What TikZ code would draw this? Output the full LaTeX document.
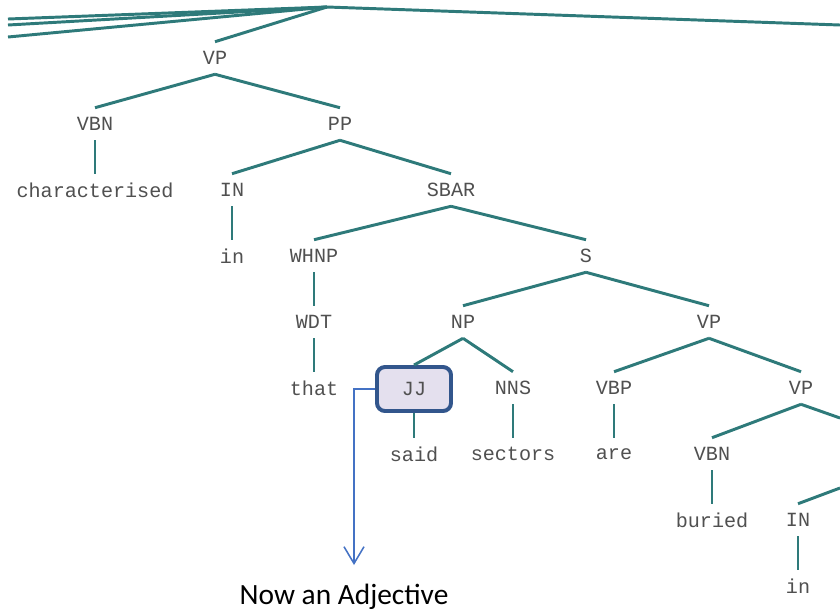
\documentclass[tikz,border=0pt]{standalone}
\usepackage{fontspec}
\setmonofont{Liberation Mono}
\newfontfamily\notefont{Carlito}
\usepackage{xcolor}
\usepackage{tikz}
\usetikzlibrary{arrows.meta}

\definecolor{treeline}{RGB}{46,122,122}
\definecolor{treetext}{RGB}{80,80,80}
\definecolor{jjborder}{RGB}{50,86,140}
\definecolor{jjfill}{RGB}{228,224,238}
\definecolor{noteblue}{RGB}{68,114,196}

\begin{document}
\begin{tikzpicture}[
    x=0.025cm, y=-0.025cm,
    tag/.style={inner sep=0pt, minimum height=0.8cm, text=treetext, font=\ttfamily\fontsize{14.3}{16}\selectfont},
    hilite/.style={tag, draw=jjborder, fill=jjfill, line width=2.8pt, rounded corners=0.2cm, minimum width=1.85cm, minimum height=1.1cm},
    edge/.style={draw=treeline, line width=2.1pt},
    pointer/.style={draw=noteblue, line width=1.1pt, -{Straight Barb[length=0.42cm, width=0.5cm, line width=1.1pt]}},
    note/.style={font=\notefont\fontsize{20.9}{23}\selectfont, text=black}
]
\useasboundingbox (0,0) rectangle (840,614);

\coordinate (top) at (327,7);
\coordinate (offa) at (8,19);
\coordinate (offb) at (8,25);
\coordinate (offc) at (8,37);
\coordinate (offd) at (840,25);
\coordinate (offe) at (840,418);
\coordinate (offf) at (840,488);

\node[tag] (vp) at (215,58) {VP};
\node[tag] (vbn) at (95,124) {VBN};
\node[tag] (pp) at (340,124) {PP};
\node[tag] (characterised) at (95,190) {characterised};
\node[tag] (in) at (232,190) {IN};
\node[tag] (sbar) at (451,190) {SBAR};
\node[tag] (inword) at (232,256) {in};
\node[tag] (whnp) at (314,256) {WHNP};
\node[tag] (s) at (586,256) {S};
\node[tag] (wdt) at (314,322) {WDT};
\node[tag] (np) at (463,322) {NP};
\node[tag] (vp2) at (709,322) {VP};
\node[tag] (that) at (314,388) {that};
\node[hilite] (jj) at (414,389) {JJ};
\node[tag] (nns) at (513,388) {NNS};
\node[tag] (vbp) at (614,388) {VBP};
\node[tag] (vp3) at (801,388) {VP};
\node[tag] (said) at (414,454) {said};
\node[tag] (sectors) at (513,454) {sectors};
\node[tag] (are) at (614,454) {are};
\node[tag] (vbn2) at (712,454) {VBN};
\node[tag] (buried) at (712,520) {buried};
\node[tag] (in2) at (798,520) {IN};
\node[tag] (inword2) at (798,586) {in};

\draw[edge] (offa) -- (top);
\draw[edge] (offb) -- (top);
\draw[edge] (offc) -- (top);
\draw[edge] (top) -- (offd);
\draw[edge] (top) -- (vp.north);
\draw[edge] (vp.south) -- (vbn.north);
\draw[edge] (vp.south) -- (pp.north);
\draw[edge] (vbn.south) -- (characterised.north);
\draw[edge] (pp.south) -- (in.north);
\draw[edge] (pp.south) -- (sbar.north);
\draw[edge] (in.south) -- (inword.north);
\draw[edge] (sbar.south) -- (whnp.north);
\draw[edge] (sbar.south) -- (s.north);
\draw[edge] (whnp.south) -- (wdt.north);
\draw[edge] (wdt.south) -- (that.north);
\draw[edge] (s.south) -- (np.north);
\draw[edge] (s.south) -- (vp2.north);
\draw[edge] (np.south) -- (jj.north);
\draw[edge] (np.south) -- (nns.north);
\draw[edge] (vp2.south) -- (vbp.north);
\draw[edge] (vp2.south) -- (vp3.north);
\draw[edge] (jj.south) -- (said.north);
\draw[edge] (nns.south) -- (sectors.north);
\draw[edge] (vbp.south) -- (are.north);
\draw[edge] (vp3.south) -- (vbn2.north);
\draw[edge] (vp3.south) -- (offe);
\draw[edge] (vbn2.south) -- (buried.north);
\draw[edge] (offf) -- (in2.north);
\draw[edge] (in2.south) -- (inword2.north);

\coordinate (tip) at (354,565);
\node[note] (adj) at (344,597) {Now an Adjective};
\draw[pointer] (jj.west) -| (tip);

\end{tikzpicture}
\end{document}
